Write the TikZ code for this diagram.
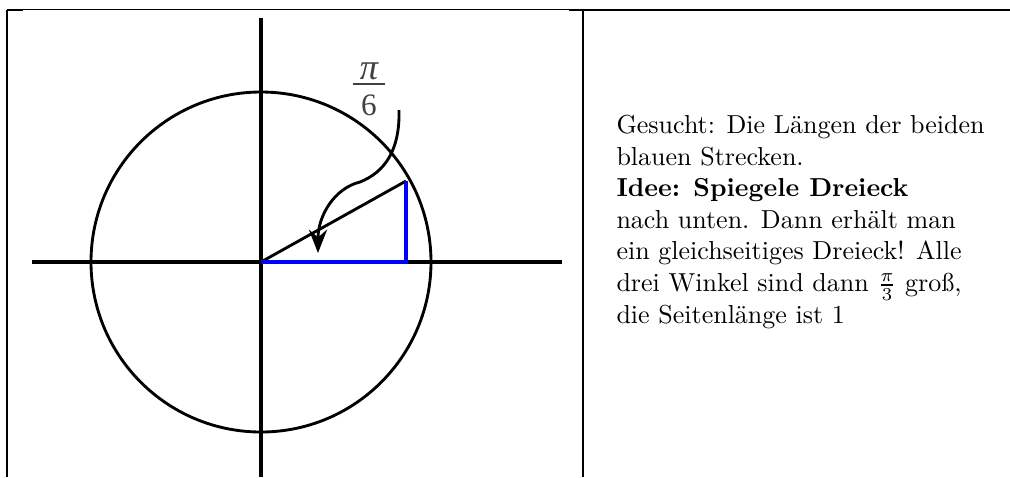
\documentclass[tikz,border=0pt]{standalone}
\usepackage{fontspec}
\newfontfamily\labelserif{Liberation Serif}
\usetikzlibrary{arrows.meta}
\definecolor{segblue}{RGB}{0,0,255}
\definecolor{labgray}{RGB}{64,64,64}
\begin{document}
\begin{tikzpicture}[x=0.384615pt,y=-0.384615pt,
  rulethin/.style={line width=0.5pt,black},
  rulethick/.style={line width=0.8pt,black},
  axis/.style={line width=1.3pt,black},
  curve/.style={line width=1.1pt,black},
  seg/.style={line width=1.2pt,segblue},
  labeltext/.style={font=\labelserif\fontsize{12pt}{14pt}\selectfont,text=labgray,inner sep=0pt},
  bodytext/.style={font=\fontsize{10pt}{12.12pt}\selectfont,align=left,inner sep=0pt,anchor=base west},
  pointer/.style={line width=1.1pt,black,-{Stealth[length=9pt,width=7pt,inset=3pt]}}
]
\useasboundingbox (0,0) rectangle (1010,477);
% table rules
\coordinate (tl) at (7,9.5);
\coordinate (tr) at (1010,9.5);
\coordinate (bl) at (7,477);
\coordinate (tm) at (583,9.5);
\coordinate (bm) at (583,477);
\draw[rulethin] (tl) -- (tr);
\draw[rulethick] (7,10) -- (23,10);
\draw[rulethick] (569,10) -- (1010,10);
\draw[rulethick] (tl) -- (bl);
\draw[rulethick] (tm) -- (bm);
% axes and circle
\coordinate (O) at (261,262);
\coordinate (yt) at (261,18);
\coordinate (yb) at (261,477);
\coordinate (xl) at (32,262);
\coordinate (xr) at (562,262);
\draw[axis] (yt) -- (yb);
\draw[axis] (xl) -- (xr);
\draw[curve] (O) circle[radius=65.385pt];
% triangle
\coordinate (P) at (406,181);
\coordinate (Q) at (406,262);
\draw[curve] (O) -- (P);
\draw[seg] (O) -- (Q) -- (P);
% angle label pi/6
\node[labeltext,anchor=base,font=\labelserif\itshape\fontsize{14pt}{14pt}\selectfont] (pi) at (369,79) {π};
\node[labeltext,anchor=base] (six) at (369,115) {6};
\coordinate (barl) at (353,84.3);
\coordinate (barr) at (385,84.3);
\draw[line width=0.75pt,labgray] (barl) -- (barr);
% pointer
\coordinate (ps) at (399,110);
\coordinate (pm) at (360,182);
\coordinate (pe) at (318,253);
\draw[pointer] (ps) .. controls (400,150) and (385,172) .. (pm)
  .. controls (335,188) and (318,215) .. (pe);
% text
\node[bodytext] (txt) at (616,323) {Gesucht: Die Längen der beiden\\
blauen Strecken.\\
\textbf{Idee: Spiegele Dreieck}\\
nach unten. Dann erhält man\\
ein gleichseitiges Dreieck! Alle\\
drei Winkel sind dann $\frac{\pi}{3}$ groß,\\
die Seitenlänge ist 1};
\end{tikzpicture}
\end{document}
